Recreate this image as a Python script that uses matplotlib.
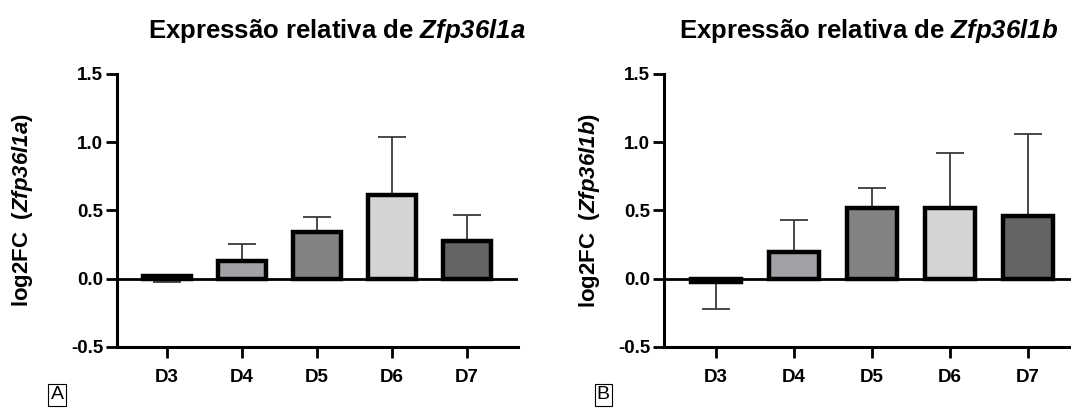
import matplotlib.pyplot as plt

plt.rcParams['font.family'] = ['Liberation Sans', 'DejaVu Sans']
plt.rcParams['mathtext.fontset'] = 'custom'
plt.rcParams['mathtext.it'] = 'Liberation Sans:bold:italic'
plt.rcParams['mathtext.rm'] = 'Liberation Sans:bold:italic'

days = ['D3', 'D4', 'D5', 'D6', 'D7']
fills = ['#1a1a1a', '#a2a2a6', '#828282', '#d4d4d4', '#646464']

# Zfp36l1a
mean_a = [0.017, 0.132, 0.341, 0.615, 0.273]
err_a = [0.044, 0.119, 0.108, 0.426, 0.195]

# Zfp36l1b
mean_b = [-0.024, 0.197, 0.518, 0.518, 0.457]
err_b = [0.200, 0.236, 0.149, 0.402, 0.603]

yticks = [-0.5, 0.0, 0.5, 1.0, 1.5]


def panel(ax, mean, err, gene, letter, xmax, title_x, label_x, down=()):
    x = list(range(len(days)))
    lo = [e if i in down else 0 for i, e in enumerate(err)]
    hi = [0 if i in down else e for i, e in enumerate(err)]
    ax.errorbar(x, mean, yerr=[lo, hi], fmt='none', ecolor='#3a3a3a',
                elinewidth=1.3, capsize=10, capthick=1.3, zorder=1)
    ax.bar(x, mean, width=0.64, color=fills, edgecolor='black',
           linewidth=3.2, zorder=2)
    ax.axhline(0, color='black', linewidth=2, zorder=3)
    ax.set_xlim(-0.667, xmax)
    ax.set_ylim(-0.5, 1.5)
    ax.set_yticks(yticks)
    ax.set_yticklabels(['%.1f' % t for t in yticks])
    ax.set_xticks(x)
    ax.set_xticklabels(days)
    for s in ['top', 'right']:
        ax.spines[s].set_visible(False)
    for s in ['left', 'bottom']:
        ax.spines[s].set_linewidth(2.2)
    ax.tick_params(width=2, length=8, labelsize=13.5, pad=2)
    ax.tick_params(axis='x', pad=8)
    for lab in ax.get_xticklabels() + ax.get_yticklabels():
        lab.set_fontweight('bold')
    fig.text(label_x, 0.49, 'log2FC  ($%s$)' % gene, fontsize=16,
             fontweight='bold', rotation=90, ha='center', va='center')
    fig.text(title_x, 0.925, 'Expressão relativa de $%s$' % gene,
             fontsize=18.5, fontweight='bold', ha='center', va='center')
    ax.text(-0.165, -0.175, letter, transform=ax.transAxes, fontsize=14,
            ha='left', va='center',
            bbox=dict(boxstyle='square,pad=0.12', fc='white', ec='black', lw=0.8))


fig = plt.figure(figsize=(10.71, 4.12), dpi=100)
ax1 = fig.add_axes([0.1092, 0.1578, 0.3745, 0.6626])
ax2 = fig.add_axes([0.620, 0.1578, 0.380, 0.6626])
panel(ax1, mean_a, err_a, 'Zfp36l1a', 'A', 4.68, 337 / 1071, 23 / 1071, down=(0,))
panel(ax2, mean_b, err_b, 'Zfp36l1b', 'B', 4.55, 869 / 1071, 589 / 1071, down=(0,))
fig.savefig('out.png', dpi=100)
